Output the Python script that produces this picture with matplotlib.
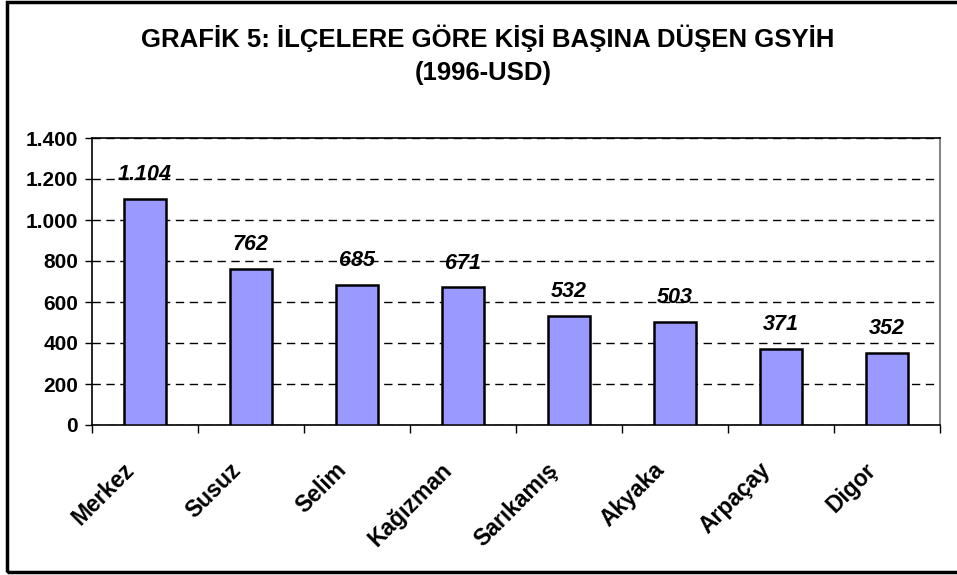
import numpy as np
import matplotlib
matplotlib.use('Agg')
import matplotlib.pyplot as plt
import matplotlib.transforms as mtransforms
from matplotlib.patches import Rectangle
from matplotlib.ticker import FuncFormatter, FixedLocator

matplotlib.rcParams['font.family'] = ['Liberation Sans', 'DejaVu Sans']
matplotlib.rcParams['font.weight'] = 'bold'

# ilce verileri
ilceler = ['Merkez', 'Susuz', 'Selim', 'Kağızman', 'Sarıkamış', 'Akyaka', 'Arpaçay', 'Digor']
gsyih = [1104, 762, 685, 671, 532, 503, 371, 352]
yticks = [0, 200, 400, 600, 800, 1000, 1200, 1400]


def nokta(v):
    # binlik ayraci nokta
    return '{:,.0f}'.format(v).replace(',', '.')


fig = plt.figure(figsize=(9.57, 5.75), dpi=100)
ax = fig.add_axes([92/957, 1-425/575, (940-92)/957, (425-138)/575])

x = np.arange(len(ilceler))
ax.bar(x, gsyih, width=0.4, color='#9999FF', edgecolor='black', linewidth=1.8, zorder=3)

for xi, v in zip(x, gsyih):
    ax.annotate(nokta(v), (xi, v), xytext=(0, 10), textcoords='offset points',
                ha='center', va='bottom', fontsize=15.5, fontweight='bold', style='italic')

ax.set_xlim(-0.5, len(ilceler) - 0.5)
ax.set_ylim(0, 1400)
ax.set_yticks(yticks)
ax.yaxis.set_major_formatter(FuncFormatter(lambda v, p: nokta(v)))
ax.tick_params(axis='y', direction='out', length=5, width=1, labelsize=15, pad=5)

ax.set_xticks(x)
ax.set_xticklabels(ilceler, rotation=45, ha='right', va='center', rotation_mode='anchor', fontsize=16.5)
ax.tick_params(axis='x', which='major', length=0, pad=30)
kayma = mtransforms.ScaledTranslation(-14/100, 0, fig.dpi_scale_trans)
for lbl in ax.get_xticklabels():
    lbl.set_transform(lbl.get_transform() + kayma)
ax.xaxis.set_minor_locator(FixedLocator(np.arange(-0.5, len(ilceler), 1.0)))
ax.tick_params(axis='x', which='minor', direction='out', length=6, width=1)

ax.yaxis.grid(True, linestyle=(0, (6, 4)), color='black', linewidth=1, zorder=0)
ax.set_axisbelow(True)

for s in ['left', 'bottom', 'top']:
    ax.spines[s].set_color('black')
    ax.spines[s].set_linewidth(1.2)
ax.spines['right'].set_color('#888888')
ax.spines['right'].set_linewidth(1.5)

fig.text(0.51, 1-38/575, 'GRAFİK 5: İLÇELERE GÖRE KİŞİ BAŞINA DÜŞEN GSYİH',
         ha='center', va='center', fontsize=18.5, fontweight='bold')
fig.text(0.505, 1-73/575, '(1996-USD)', ha='center', va='center', fontsize=18.5, fontweight='bold')

# dis cerceve
fig.patches.append(Rectangle((7/957, 3/575), 1.1, 1-5/575, transform=fig.transFigure,
                             fill=False, edgecolor='black', linewidth=2.5))

fig.savefig('out.png', dpi=100)
